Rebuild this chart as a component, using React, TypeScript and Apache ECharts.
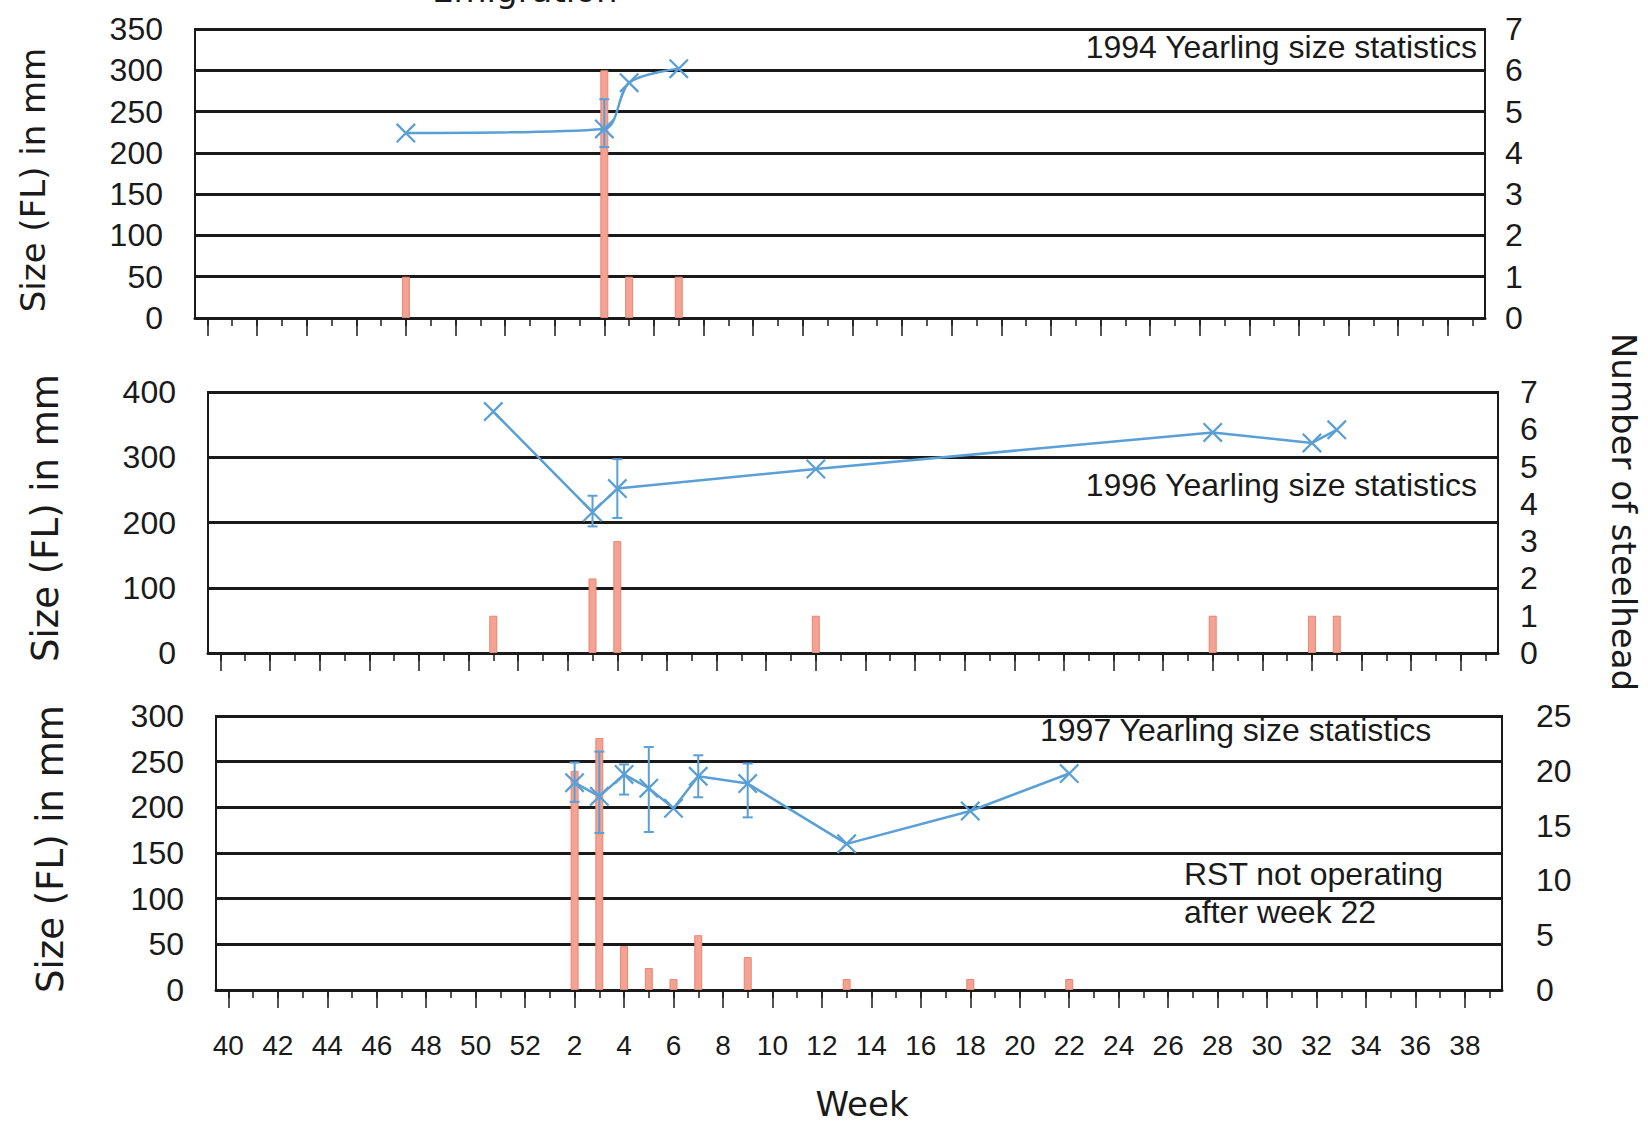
import React, { useEffect, useRef } from 'react';
import * as echarts from 'echarts';

// ---------- DATA ----------
const weekLabels = [
  '40', '41', '42', '43', '44', '45', '46', '47', '48', '49', '50', '51', '52',
  '1', '2', '3', '4', '5', '6', '7', '8', '9', '10', '11', '12', '13', '14', '15', '16', '17', '18', '19', '20',
  '21', '22', '23', '24', '25', '26', '27', '28', '29', '30', '31', '32', '33', '34', '35', '36', '37', '38', '39',
];

// 1994
const weeks1994 = ['48', '4', '5', '7'];
const size1994 = [224, 229, 285, 302];
const count1994 = [1, 6, 1, 1];
const errWeeks1994 = ['4'];
const errLow1994 = [207];
const errHigh1994 = [265];

// 1996
const weeks1996 = ['51', '3', '4', '12', '28', '32', '33'];
const size1996 = [370, 216, 252, 282, 338, 322, 342];
const count1996 = [1, 2, 3, 1, 1, 1, 1];
const errWeeks1996 = ['3', '4'];
const errLow1996 = [194, 207];
const errHigh1996 = [241, 297];

// 1997
const weeks1997 = ['2', '3', '4', '5', '6', '7', '9', '13', '18', '22'];
const size1997 = [227, 212, 236, 221, 199, 234, 226, 160, 196, 237];
const count1997 = [20, 23, 4, 2, 1, 5, 3, 1, 1, 1];
const errWeeks1997 = ['2', '3', '4', '5', '7', '9'];
const errLow1997 = [206, 172, 214, 173, 211, 189];
const errHigh1997 = [249, 261, 247, 266, 257, 248];

const leftAxisMax = [350, 400, 300];
const leftAxisStep = [50, 100, 50];
const rightAxisMax = [7, 7, 25];
const rightAxisStep = [1, 1, 5];

const annotations1994 = '1994 Yearling size statistics';
const annotations1996 = '1996 Yearling size statistics';
const annotations1997 = '1997 Yearling size statistics';
const rstNote = ['RST not operating', 'after week 22'];

// ---------- STYLE ----------
const LINE_COLOR = '#5a9fd6';
const BAR_COLOR = '#f3a293';
const BAR_BORDER = '#e8866f';
const INK = '#1a1a1a';
const NUM_FONT = '"Liberation Sans", Arial, sans-serif';
const TITLE_FONT = '"DejaVu Sans", sans-serif';
const X_SYMBOL = 'path://M0,0.8L0.8,0L10,9.2L9.2,10Z M9.2,0L10,0.8L0.8,10L0,9.2Z';

const idx = (w: string) => weekLabels.indexOf(w);

const grids = [
  { left: 195, top: 29, width: 1290, height: 289 },
  { left: 208, top: 392, width: 1290, height: 261 },
  { left: 216, top: 716, width: 1286, height: 274 },
];

const errorRender = (params: any, api: any) => {
  const xi = api.value(0);
  const lo = api.coord([xi, api.value(1)]);
  const hi = api.coord([xi, api.value(2)]);
  const c = 5;
  const style = { stroke: LINE_COLOR, lineWidth: 2 };
  return {
    type: 'group',
    children: [
      { type: 'line', shape: { x1: lo[0], y1: lo[1], x2: hi[0], y2: hi[1] }, style },
      { type: 'line', shape: { x1: lo[0] - c, y1: lo[1], x2: lo[0] + c, y2: lo[1] }, style },
      { type: 'line', shape: { x1: hi[0] - c, y1: hi[1], x2: hi[0] + c, y2: hi[1] }, style },
    ],
  };
};

function buildOption() {
  const panels = [
    { weeks: weeks1994, size: size1994, count: count1994, ew: errWeeks1994, el: errLow1994, eh: errHigh1994, smooth: 0.3 },
    { weeks: weeks1996, size: size1996, count: count1996, ew: errWeeks1996, el: errLow1996, eh: errHigh1996, smooth: false },
    { weeks: weeks1997, size: size1997, count: count1997, ew: errWeeks1997, el: errLow1997, eh: errHigh1997, smooth: false },
  ];
  const rightMargins = [20, 22, 34];

  const xAxis: any[] = [];
  const yAxis: any[] = [];
  const series: any[] = [];

  grids.forEach((g, i) => {
    xAxis.push({
      type: 'category',
      gridIndex: i,
      data: weekLabels,
      position: 'bottom',
      boundaryGap: true,
      axisLine: { show: true, lineStyle: { color: INK, width: 3 } },
      axisTick: { show: true, interval: 0, alignWithLabel: true, length: 8, lineStyle: { color: INK, width: 1.5 } },
      axisLabel: { show: false },
      splitLine: { show: false },
    });
    xAxis.push({
      type: 'category',
      gridIndex: i,
      data: weekLabels,
      position: 'bottom',
      boundaryGap: true,
      axisLine: { show: false },
      axisTick: { show: true, interval: 1, alignWithLabel: true, length: 18, lineStyle: { color: INK, width: 1.5 } },
      axisLabel: {
        show: i === 2,
        interval: 1,
        fontSize: 28,
        fontFamily: NUM_FONT,
        color: INK,
        margin: 41,
      },
      splitLine: { show: false },
    });
    yAxis.push({
      type: 'value',
      gridIndex: i,
      position: 'left',
      min: 0,
      max: leftAxisMax[i],
      interval: leftAxisStep[i],
      axisLine: { show: false },
      axisTick: { show: false },
      axisLabel: { fontSize: 32, fontFamily: NUM_FONT, color: INK, margin: 32 },
      splitLine: { show: true, lineStyle: { color: INK, width: 3 } },
    });
    yAxis.push({
      type: 'value',
      gridIndex: i,
      position: 'right',
      min: 0,
      max: rightAxisMax[i],
      interval: rightAxisStep[i],
      axisLine: { show: false },
      axisTick: { show: false },
      axisLabel: { fontSize: 32, fontFamily: NUM_FONT, color: INK, margin: rightMargins[i], align: 'left' },
      splitLine: { show: false },
    });

    const p = panels[i];
    series.push({
      type: 'bar',
      xAxisIndex: 2 * i,
      yAxisIndex: 2 * i + 1,
      barWidth: 8,
      z: 2,
      itemStyle: { color: BAR_COLOR, borderColor: BAR_BORDER, borderWidth: 1 },
      data: p.weeks.map((w, k) => [idx(w), p.count[k]]),
    });
    series.push({
      type: 'custom',
      xAxisIndex: 2 * i,
      yAxisIndex: 2 * i,
      z: 3,
      encode: { x: 0, y: [1, 2] },
      renderItem: errorRender,
      data: p.ew.map((w, k) => [idx(w), p.el[k], p.eh[k]]),
    });
    series.push({
      type: 'line',
      xAxisIndex: 2 * i,
      yAxisIndex: 2 * i,
      z: 4,
      smooth: p.smooth,
      symbol: X_SYMBOL,
      symbolSize: 20,
      showAllSymbol: true,
      lineStyle: { color: LINE_COLOR, width: 2.5 },
      itemStyle: { color: LINE_COLOR },
      data: p.weeks.map((w, k) => [idx(w), p.size[k]]),
    });
  });

  const txt = (text: string, x: number, y: number, opts: any = {}) => ({
    type: 'text',
    x,
    y,
    rotation: opts.rotation || 0,
    z: 10,
    style: {
      text,
      x: 0,
      y: 0,
      fontSize: opts.fontSize || 32,
      fontFamily: opts.fontFamily || NUM_FONT,
      fill: INK,
      align: opts.align || 'center',
      textAlign: opts.align || 'center',
      verticalAlign: 'middle',
      textVerticalAlign: 'middle',
    },
  });

  const graphic = [
    txt('Emigration', 432, -10, { fontSize: 34, fontFamily: TITLE_FONT, align: 'left' }),
    txt(annotations1994, 1477, 47, { align: 'right' }),
    txt(annotations1996, 1477, 485, { align: 'right' }),
    txt(annotations1997, 1040, 730, { align: 'left' }),
    txt(rstNote[0], 1184, 874, { align: 'left' }),
    txt(rstNote[1], 1184, 912, { align: 'left' }),
    txt('Size (FL) in mm', 33, 180, { rotation: Math.PI / 2, fontSize: 34, fontFamily: TITLE_FONT }),
    txt('Size (FL) in mm', 45, 518, { rotation: Math.PI / 2, fontSize: 37, fontFamily: TITLE_FONT }),
    txt('Size (FL) in mm', 50, 849, { rotation: Math.PI / 2, fontSize: 37, fontFamily: TITLE_FONT }),
    txt('Number of steelhead', 1624, 512, { rotation: -Math.PI / 2, fontSize: 34, fontFamily: TITLE_FONT }),
    txt('Week', 862, 1104, { fontSize: 34, fontFamily: TITLE_FONT }),
  ];

  return {
    animation: false,
    backgroundColor: '#ffffff',
    grid: grids.map((g) => ({ ...g, show: true, borderColor: INK, borderWidth: 2, backgroundColor: 'transparent' })),
    xAxis,
    yAxis,
    series,
    graphic,
  };
}

export default function App() {
  const ref = useRef<HTMLDivElement>(null);
  useEffect(() => {
    if (!ref.current) return;
    const chart = echarts.init(ref.current, undefined, { renderer: 'svg' });
    chart.setOption(buildOption() as any);
    return () => chart.dispose();
  }, []);
  return (
    <div
      ref={ref}
      style={{ position: 'fixed', left: 0, top: 0, width: 1648, height: 1125, background: '#fff' }}
    />
  );
}
